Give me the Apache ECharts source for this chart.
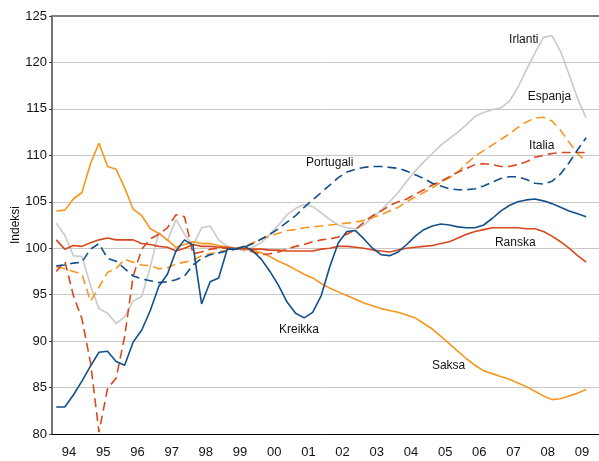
<!DOCTYPE html>
<html>
<head>
<meta charset="utf-8">
<script src="https://cdn.jsdelivr.net/npm/echarts@6/dist/echarts.min.js"></script>
<style>
  html, body { margin: 0; padding: 0; background: #fff; }
  #chart { width: 599px; height: 461px; }
</style>
</head>
<body>
<div id="chart"></div>
<script>
// vuodet x-akselille, data neljännesvuosittain 94Q1 - 09Q3
const years = ['94','95','96','97','98','99','00','01','02','03','04','05','06','07','08','09'];
const yTicks = { min: 80, max: 125, step: 5 };

const irlanti = [102.7,101.4,99.2,99.1,96.0,93.5,93.0,91.9,92.6,94.3,
  94.8,98.0,101.7,100.8,103.1,101.5,100.3,102.2,102.4,100.9,
  100.2,100.0,99.7,100.1,100.6,101.5,102.5,103.6,104.3,104.7,
  104.5,103.8,103.1,102.5,102.2,102.1,102.5,103.3,104.1,105.0,
  106.0,107.2,108.3,109.3,110.2,111.1,111.8,112.5,113.3,114.2,
  114.6,114.9,115.1,115.8,117.3,119.2,121.0,122.7,122.9,121.2,
  118.7,116.1,114.0];
const espanja = [98.0,97.8,97.5,97.2,94.3,95.8,97.4,97.8,98.8,98.5,
  98.2,98.1,97.8,97.9,98.3,98.5,98.7,99.2,99.4,99.6,
  99.8,100.0,100.2,100.6,101.0,101.3,101.6,101.9,102.0,102.2,
  102.3,102.4,102.5,102.6,102.7,102.8,103.0,103.3,103.6,104.0,
  104.4,105.0,105.5,106.0,106.5,107.1,107.6,108.2,109.1,109.9,
  110.5,111.1,111.7,112.3,113.0,113.6,114.0,114.1,113.7,112.7,
  111.4,110.2,109.3];
const italia = [97.5,98.6,94.9,92.4,87.7,80.2,84.9,86.0,90.5,97.0,
  99.9,101.0,101.5,102.2,103.6,103.4,99.4,99.6,99.9,100.0,
  100.0,100.0,99.9,99.6,99.3,99.4,99.6,99.9,100.2,100.4,
  100.7,100.9,101.0,101.2,101.5,102.0,102.8,103.5,104.0,104.6,
  105.0,105.3,105.8,106.3,106.8,107.2,107.7,108.2,108.6,109.0,
  109.1,109.0,108.8,108.8,109.0,109.3,109.8,110.0,110.2,110.3,
  110.3,110.3,110.3];
const portugali = [98.1,98.2,98.4,98.5,99.9,100.5,98.9,98.6,97.8,97.0,
  96.7,96.5,96.3,96.4,96.6,97.0,98.2,98.9,99.3,99.5,
  99.7,99.9,100.1,100.5,101.0,101.5,102.1,102.8,103.5,104.4,
  105.2,106.0,106.8,107.6,108.2,108.5,108.7,108.8,108.8,108.7,
  108.6,108.3,107.9,107.5,107.0,106.7,106.4,106.3,106.3,106.4,
  106.7,107.1,107.5,107.7,107.7,107.4,107.0,106.9,107.2,108.0,
  109.2,110.6,111.9];
const kreikka = [82.9,82.9,84.2,85.7,87.3,88.8,88.9,87.8,87.4,89.9,
  91.2,93.3,95.9,97.2,99.7,100.9,100.3,94.0,96.4,96.8,
  99.9,99.9,100.2,99.7,98.8,97.5,96.0,94.2,93.0,92.5,
  93.1,94.9,98.0,100.6,101.8,101.9,101.0,100.0,99.3,99.2,
  99.6,100.4,101.3,102.0,102.4,102.6,102.5,102.3,102.2,102.2,
  102.5,103.2,104.0,104.6,105.0,105.2,105.3,105.1,104.8,104.4,
  104.0,103.7,103.4];
const ranska = [100.9,99.9,100.3,100.2,100.6,100.9,101.1,100.9,100.9,100.9,
  100.5,100.4,100.2,100.1,99.7,100.0,100.4,100.2,100.2,100.1,
  100.1,100.0,100.0,99.9,99.9,99.8,99.8,99.7,99.7,99.7,
  99.7,99.9,100.0,100.2,100.2,100.1,100.0,99.8,99.7,99.6,
  99.8,100.0,100.1,100.2,100.3,100.5,100.7,101.1,101.5,101.8,
  102.0,102.2,102.2,102.2,102.2,102.1,102.1,101.8,101.3,100.7,
  100.0,99.2,98.5];
const saksa = [104.0,104.1,105.3,106.0,109.1,111.3,108.8,108.5,106.5,104.2,
  103.5,102.1,101.6,100.9,100.1,100.4,100.7,100.5,100.5,100.3,
  100.1,99.9,99.9,99.8,99.5,99.1,98.6,98.2,97.7,97.2,
  96.8,96.2,95.7,95.3,94.9,94.5,94.1,93.8,93.5,93.3,
  93.1,92.8,92.5,91.9,91.3,90.5,89.7,88.9,88.1,87.4,
  86.8,86.5,86.2,85.9,85.5,85.1,84.6,84.1,83.7,83.8,
  84.1,84.4,84.8];

const FONT = '"Liberation Sans", Arial, sans-serif';
const BLUE = '#134f88';
const RED = '#d9481c';
const ORANGE = '#f7961e';
const GREY = '#c9c9c9';

// neljännes i piirretään vuosivälin keskelle: x = i + 0.5
const toPoints = arr => arr.map((v, i) => [i + 0.5, v]);

const makeSeries = (name, data, color, dashed, labelAt) => ({
    name: name,
    type: 'line',
    xAxisIndex: 1,
    data: toPoints(data),
    showSymbol: false,
    symbol: 'none',
    lineStyle: {
        color: color,
        width: 1.6,
        type: dashed ? [9, 5] : 'solid'
    },
    markPoint: {
        symbol: 'circle',
        symbolSize: 0,
        silent: true,
        label: {
            show: true,
            position: 'inside',
            formatter: name,
            color: '#111',
            fontSize: 12,
            fontFamily: FONT
        },
        data: [{ coord: labelAt }]
    }
});

const chart = echarts.init(document.getElementById('chart'));
const option = {
    animation: false,
    backgroundColor: '#fff',
    grid: { left: 52, right: 0, top: 16, bottom: 27, containLabel: false, outerBoundsMode: 'none' },
    xAxis: [
        {
            type: 'category',
            data: years,
            boundaryGap: true,
            axisLine: { lineStyle: { color: '#000', width: 1 } },
            axisTick: { length: 5, lineStyle: { color: '#000' } },
            axisLabel: { color: '#111', fontSize: 13, fontFamily: FONT, margin: 12 },
            splitLine: { show: false }
        },
        {
            // piilotettu neljännesakseli, yläreunan harmaa viiva
            type: 'value',
            position: 'top',
            min: 0,
            max: years.length * 4,
            axisLine: { show: true, onZero: false, lineStyle: { color: '#7f7f7f', width: 2 } },
            axisTick: { show: false },
            axisLabel: { show: false },
            splitLine: { show: false }
        }
    ],
    yAxis: {
        type: 'value',
        min: yTicks.min,
        max: yTicks.max,
        interval: yTicks.step,
        name: 'Indeksi',
        nameLocation: 'middle',
        nameGap: 30,
        nameRotate: 90,
        nameMoveOverlap: false,
        nameTextStyle: { color: '#111', fontSize: 12, fontFamily: FONT },
        axisLine: { show: true, lineStyle: { color: '#444', width: 1.5 } },
        axisTick: { show: true, length: 3, lineStyle: { color: '#444' } },
        axisLabel: { color: '#111', fontSize: 13, fontFamily: FONT, margin: 5 },
        splitLine: { lineStyle: { color: '#c8c8c8', width: 1 } }
    },
    series: [
        makeSeries('Irlanti', irlanti, GREY, false, [55.2, 122.4]),
        makeSeries('Saksa', saksa, ORANGE, false, [46.4, 87.4]),
        makeSeries('Ranska', ranska, RED, false, [54.2, 100.6]),
        makeSeries('Espanja', espanja, ORANGE, true, [58.2, 116.3]),
        makeSeries('Italia', italia, RED, true, [57.3, 111.0]),
        makeSeries('Portugali', portugali, BLUE, true, [32.5, 109.2]),
        makeSeries('Kreikka', kreikka, BLUE, false, [28.9, 91.2])
    ]
};
chart.setOption(option);
</script>
</body>
</html>
